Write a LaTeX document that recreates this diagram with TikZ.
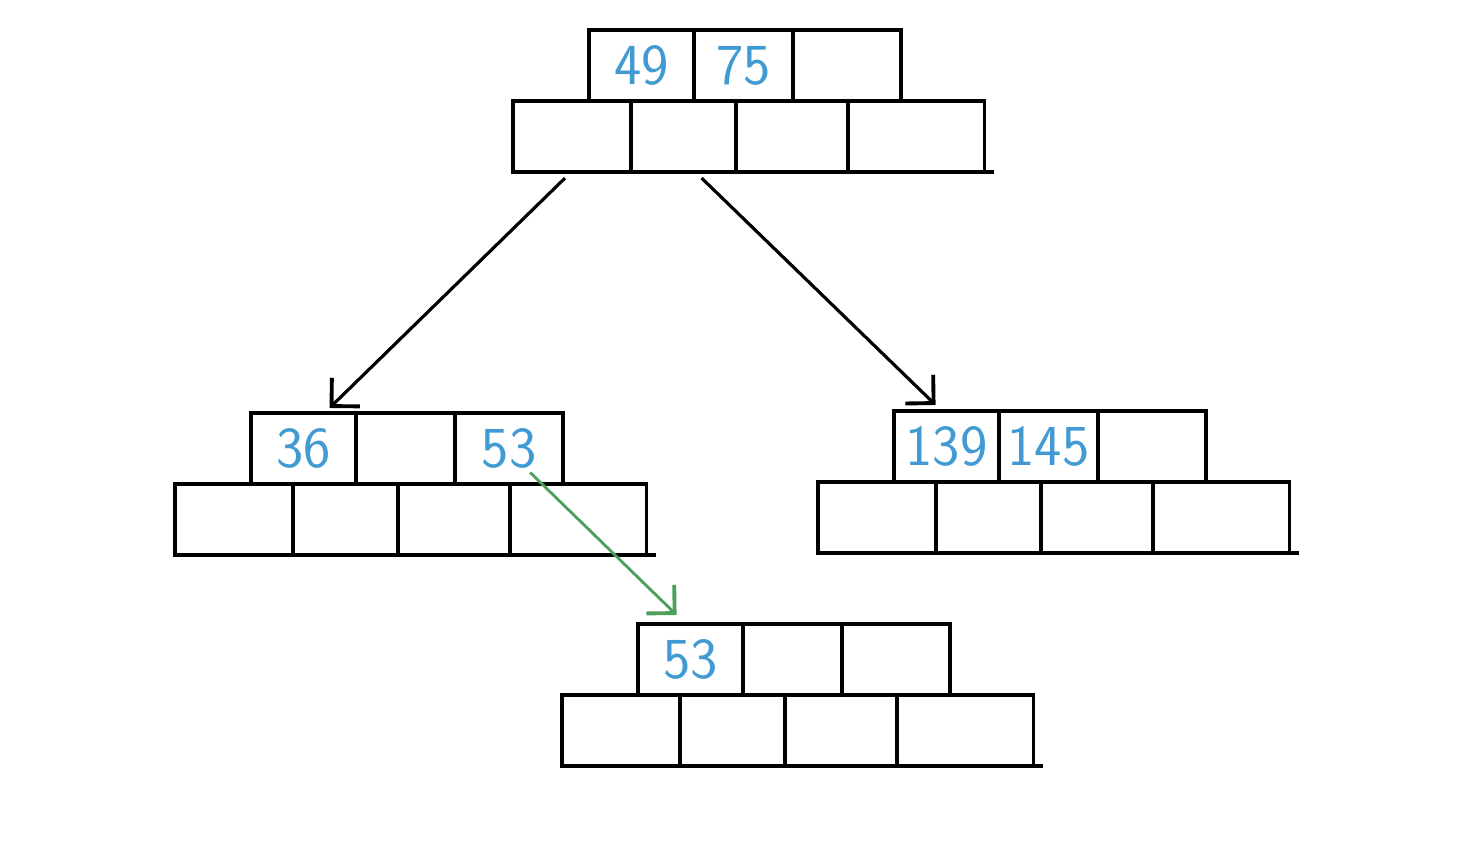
\documentclass[tikz,border=0pt]{standalone}
\usepackage{xcolor}
\usepackage{tikz}
\usetikzlibrary{arrows.meta, positioning, calc}
\definecolor{keyblue}{RGB}{66,154,210}
\definecolor{mygreen}{RGB}{76,160,92}
\tikzset{
  cell/.style={rectangle, draw=black, inner sep=0pt, outer sep=0pt,
    line width=1pt, minimum height=0.71cm},
  keycell/.style={cell, text=keyblue, font=\fontsize{16.5}{19}\selectfont\sffamily},
  link/.style={-{Straight Barb[length=2mm, width=4mm, line width=1.1pt]}, line width=0.9pt, color=black},
  greenlink/.style={-{Straight Barb[length=2mm, width=4mm, line width=1.1pt]}, line width=0.8pt, color=mygreen},
  line/.style={line width=1pt, color=black}
}

% one B-tree node: name, x, y (top-left of pointer row), three keys
\newcommand{\btnode}[6]{%
  \node[cell, minimum width=1.18cm, anchor=north west] (#1-p1) at (#2,#3) {};
  \node[cell, minimum width=1.05cm, anchor=north west] (#1-p2) at (#1-p1.north east) {};
  \node[cell, minimum width=1.12cm, anchor=north west] (#1-p3) at (#1-p2.north east) {};
  \node[cell, minimum width=1.36cm, anchor=north west] (#1-p4) at (#1-p3.north east) {};
  \node[keycell, minimum width=1.05cm, anchor=south west] (#1-k1) at ([xshift=0.76cm]#1-p1.north west) {#4};
  \node[keycell, minimum width=0.99cm, anchor=south west] (#1-k2) at (#1-k1.south east) {#5};
  \node[keycell, minimum width=1.08cm, anchor=south west] (#1-k3) at (#1-k2.south east) {#6};
  \draw[line] (#1-p4.south east) -- ++(0.1cm,0);
}

\begin{document}
\begin{tikzpicture}[x=0.01cm, y=-0.01cm]
  \useasboundingbox[fill=white] (0,0) rectangle (1468,860);

  % Root
  \btnode{root}{513}{101}{49}{75}{}

  % Level 2
  \btnode{left}{175}{484}{36}{}{53}
  \btnode{right}{818}{482}{139}{145}{}

  % Split node
  \btnode{split}{562}{695}{53}{}{}

  % Links
  \draw[link] ([shift={(-7,6)}]root-p1.south) -- ([shift={(26,-5)}]left-k1.north);
  \draw[link] ([shift={(18,6)}]root-p2.south) -- ([shift={(-11,-6)}]right-k1.north);
  \draw[greenlink] ([shift={(21,24)}]left-k3.center) -- ([shift={(-14,-9)}]split-k1.north);
\end{tikzpicture}
\end{document}
